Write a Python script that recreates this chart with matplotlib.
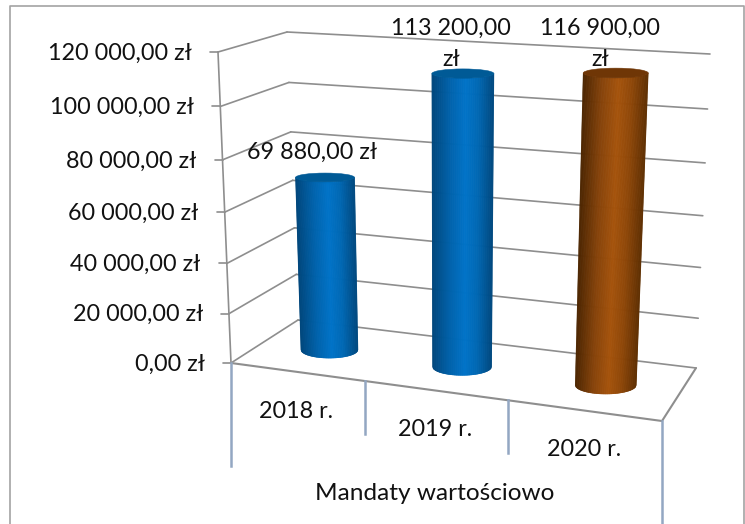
import numpy as np
import matplotlib
matplotlib.use("Agg")
import matplotlib.pyplot as plt
from matplotlib.collections import PolyCollection
from matplotlib.colors import to_rgb
from matplotlib.patches import Ellipse

categories = ["2018 r.", "2019 r.", "2020 r."]
values = [69880.0, 113200.0, 116900.0]
value_labels = ["69 880,00 zł", "113 200,00\nzł", "116 900,00\nzł"]
tick_values = [0, 20000, 40000, 60000, 80000, 100000, 120000]
tick_labels = ["0,00 zł", "20 000,00 zł", "40 000,00 zł", "60 000,00 zł",
               "80 000,00 zł", "100 000,00 zł", "120 000,00 zł"]
axis_title = "Mandaty wartościowo"
VMAX = 120000.0

plt.rcParams["font.family"] = ["Lato", "DejaVu Sans"]
FS = 16.8
GRID = "#8e8e8e"
AXBLUE = "#93a7c2"

fig = plt.figure(figsize=(7.45, 5.24), dpi=100)
ax = fig.add_axes([0, 0, 1, 1])
ax.set_xlim(0, 745)
ax.set_ylim(524, 0)
ax.axis("off")

# projection of the 3D box: corner -> picture position
C = {  # (right, back, top)
    (0, 0, 0): (231, 363), (0, 0, 1): (218, 52),
    (0, 1, 0): (298, 320), (0, 1, 1): (287, 32),
    (1, 1, 0): (696, 368), (1, 1, 1): (710, 54),
    (1, 0, 0): (662, 421), (1, 0, 1): (678, 84),
}

def proj(u, w, v):
    a, b = u / 3.0, w
    c = v / VMAX
    c = c / (1 + 0.062 * (1 - c))  # slight perspective along the value axis
    x = y = 0.0
    for (i, j, k), (px, py) in C.items():
        f = (a if i else 1 - a) * (b if j else 1 - b) * (c if k else 1 - c)
        x += f * px
        y += f * py
    return x, y

def seg(p, q, **kw):
    ax.plot([p[0], q[0]], [p[1], q[1]], solid_capstyle="round", **kw)

# chart border (open at the bottom)
ax.plot([9.5, 9.5, 744, 744], [524, 6, 6, 524], color="#a3a3a3", lw=1.2, zorder=1)

# gridlines, y axis, ticks
for tv in tick_values:
    seg(proj(0, 0, tv), proj(0, 1, tv), color=GRID, lw=1.2, zorder=2)
    seg(proj(0, 1, tv), proj(3, 1, tv), color=GRID, lw=1.2, zorder=2)
    fx, fy = proj(0, 0, tv)
    seg((fx - 8, fy), (fx, fy), color=GRID, lw=1.2, zorder=2)
seg(proj(0, 0, 0), proj(0, 0, VMAX), color=GRID, lw=1.2, zorder=2)

# floor outline and category ticks
seg(proj(0, 0, 0), proj(3, 0, 0), color=GRID, lw=1.5, zorder=2)
seg(proj(3, 0, 0), proj(3, 1, 0), color=GRID, lw=1.5, zorder=2)
for u, drop in zip([0, 0.933, 1.928, 3], [103, 53, 53, 103]):
    x, y = proj(u, 0, 0)
    ax.plot([x, x], [y, y + drop], color=AXBLUE, lw=1.8, zorder=2)

# cylinders
stops = {
    "blue": (["#00457a", "#0062ab", "#0073c8", "#0068b4", "#00487f"], "#005a96"),
    "brown": (["#4a2400", "#86430a", "#a5530b", "#8f4708", "#5f2f02"], "#6f3606"),
}
bar_u = [0.47, 1.43, 2.47]
bar_colors = ["blue", "blue", "brown"]
tpos = np.array([0, 0.3, 0.55, 0.75, 1.0])

for i, (val, u, name) in enumerate(zip(values, bar_u, bar_colors)):
    bx, by = proj(u, 0.5, 0)
    tx, ty = proj(u, 0.5, val)
    rb = 28.5 + i * 1.0
    rt = rb + (0.5 + i * 0.5 + 0.5)
    ryb, ryt = rb * 0.29, rt * 0.15
    cols, cap = stops[name]
    rgb = np.array([to_rgb(c) for c in cols])
    t = np.linspace(-1, 1, 91)
    polys, fc = [], []
    for a, b in zip(t[:-1], t[1:]):
        sa, sb = np.sqrt(1 - a * a), np.sqrt(1 - b * b)
        polys.append([
            (tx + a * rt, ty + ryt * sa), (tx + b * rt, ty + ryt * sb),
            (bx + b * rb, by + ryb * sb), (bx + a * rb, by + ryb * sa),
        ])
        m = (a + b) / 4 + 0.5
        fc.append([np.interp(m, tpos, rgb[:, k]) for k in range(3)])
    ax.add_collection(PolyCollection(polys, facecolors=fc, edgecolors=fc, linewidths=0.4, zorder=3))
    ax.add_patch(Ellipse((tx, ty), 2 * rt, 2 * ryt, fc=cap, ec=cap, lw=0.4, zorder=4))

# texts
for tv, lab in zip(tick_values, tick_labels):
    fx, fy = proj(0, 0, tv)
    ax.text(fx - 26, fy + 1, lab, ha="right", va="center", fontsize=FS, color="#111111", zorder=6)

label_pos = [(312, 152), (451, 44), (600, 44)]
for lab, (x, y) in zip(value_labels, label_pos):
    ax.text(x, y, lab, ha="center", va="center", fontsize=FS, color="#111111",
            linespacing=1.55, zorder=6)

for lab, (x, y) in zip(categories, [(296, 412), (435, 430), (584, 450)]):
    ax.text(x, y, lab, ha="center", va="center", fontsize=FS, color="#111111", zorder=6)

ax.text(435, 494, axis_title, ha="center", va="center", fontsize=17.6, color="#111111", zorder=6)

fig.savefig("out.png", dpi=100)
